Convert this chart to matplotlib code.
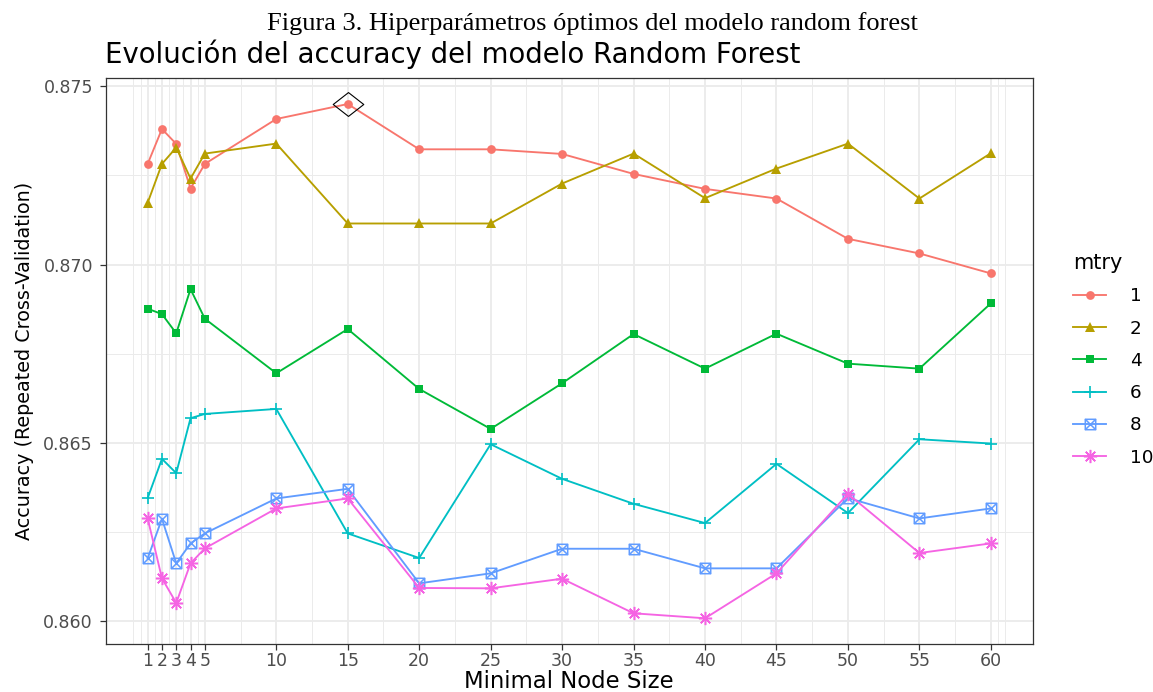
import numpy as np
import matplotlib
matplotlib.use("Agg")
import matplotlib.pyplot as plt
from matplotlib.path import Path

# Datos
node_size = [1, 2, 3, 4, 5, 10, 15, 20, 25, 30, 35, 40, 45, 50, 55, 60]
mtry_levels = ["1", "2", "4", "6", "8", "10"]

acc_mtry1 = [0.87282, 0.87380, 0.87338, 0.87213, 0.87282, 0.87408, 0.87450, 0.87323,
             0.87323, 0.87310, 0.87254, 0.87212, 0.87185, 0.87072, 0.87031, 0.86975]
acc_mtry2 = [0.87173, 0.87282, 0.87328, 0.87241, 0.87311, 0.87339, 0.87115, 0.87115,
             0.87115, 0.87227, 0.87311, 0.87186, 0.87269, 0.87339, 0.87185, 0.87312]
acc_mtry4 = [0.86876, 0.86861, 0.86807, 0.86931, 0.86848, 0.86695, 0.86819, 0.86651,
             0.86539, 0.86667, 0.86805, 0.86708, 0.86806, 0.86722, 0.86708, 0.86891]
acc_mtry6 = [0.86345, 0.86455, 0.86415, 0.86569, 0.86581, 0.86595, 0.86246, 0.86177,
             0.86496, 0.86399, 0.86329, 0.86275, 0.86441, 0.86303, 0.86510, 0.86498]
acc_mtry8 = [0.86176, 0.86287, 0.86162, 0.86218, 0.86246, 0.86344, 0.86371, 0.86106,
             0.86134, 0.86203, 0.86203, 0.86148, 0.86148, 0.86345, 0.86288, 0.86316]
acc_mtry10 = [0.86288, 0.86120, 0.86051, 0.86162, 0.86204, 0.86316, 0.86344, 0.86093,
              0.86092, 0.86119, 0.86022, 0.86008, 0.86134, 0.86357, 0.86191, 0.86218]

series = [acc_mtry1, acc_mtry2, acc_mtry4, acc_mtry6, acc_mtry8, acc_mtry10]
colors = ["#F8766D", "#B79F00", "#00BA38", "#00BFC4", "#619CFF", "#F564E3"]

y_ticks = [0.860, 0.865, 0.870, 0.875]
x_ticks = node_size

# marcadores tipo ggplot: 16, 17, 15, 3, 7, 8
sq_x = Path([(-1, -1), (1, -1), (1, 1), (-1, 1), (-1, -1),
             (-1, -1), (1, 1), (-1, 1), (1, -1)],
            [Path.MOVETO, Path.LINETO, Path.LINETO, Path.LINETO, Path.CLOSEPOLY,
             Path.MOVETO, Path.LINETO, Path.MOVETO, Path.LINETO])
diamond = Path([(-1, 0), (0, 0.78), (1, 0), (0, -0.78), (-1, 0)],
               [Path.MOVETO, Path.LINETO, Path.LINETO, Path.LINETO, Path.CLOSEPOLY])

marker_style = [
    dict(marker="o", ms=6.3, mec="none"),
    dict(marker="^", ms=7.8, mec="none"),
    dict(marker="s", ms=6.3, mec="none"),
    dict(marker="+", ms=9.0, mew=1.2),
    dict(marker=sq_x, ms=7.5, mfc="none", mew=1.1),
    dict(marker=(8, 2, 0), ms=9.5, mew=1.1),
]

plt.rcParams["font.family"] = ["DejaVu Sans"]

fig = plt.figure(figsize=(11.53, 6.92), dpi=100)
ax = fig.add_axes([105.5 / 1153, 1 - 644 / 692, (1033 - 105.5) / 1153, (644 - 78.3) / 692])

# cuadrícula
ax.set_axisbelow(True)
minor_x = [0, 0.5, 1.5, 2.5, 3.5, 4.5] + [7.5 + 5 * k for k in range(11)] + [60.5, 61]
for xm in minor_x:
    ax.axvline(xm, color="#EBEBEB", lw=0.7, zorder=0)
for xm in x_ticks:
    ax.axvline(xm, color="#EBEBEB", lw=1.3, zorder=0)
for ym in [0.8625, 0.8675, 0.8725]:
    ax.axhline(ym, color="#EBEBEB", lw=0.7, zorder=0)
for ym in y_ticks:
    ax.axhline(ym, color="#EBEBEB", lw=1.3, zorder=0)

for vals, col, lab, ms in zip(series, colors, mtry_levels, marker_style):
    kw = dict(ms)
    if kw.get("mfc") != "none":
        kw.setdefault("mfc", col)
    kw.setdefault("mec", col)
    if kw["mec"] == "none":
        kw["mec"] = col
        kw["mew"] = 0
    ax.plot(node_size, vals, color=col, lw=1.35, label=lab, zorder=3, **kw)

# mejor combinación
all_vals = np.array(series)
i_best, j_best = np.unravel_index(np.argmax(all_vals), all_vals.shape)
ax.plot(node_size[j_best], all_vals[i_best, j_best], marker=diamond, ms=22,
        mfc="none", mec="black", mew=0.8, ls="none", zorder=4)

lo, hi = all_vals.min(), all_vals.max()
pad = 0.05 * (hi - lo)
ax.set_ylim(lo - pad, hi + pad)
ax.set_xlim(1 - 0.05 * 59, 60 + 0.05 * 59)

ax.set_xticks(x_ticks)
ax.set_xticklabels([str(v) for v in x_ticks])
ax.set_yticks(y_ticks)
ax.set_yticklabels(["%.3f" % v for v in y_ticks])
ax.tick_params(axis="both", direction="out", length=4, width=0.9, color="#333333",
               labelcolor="#4D4D4D", labelsize=12.5)
ax.tick_params(axis="x", pad=2)
ax.tick_params(axis="y", pad=5)

for sp in ax.spines.values():
    sp.set_color("#333333")
    sp.set_linewidth(0.9)

ax.set_xlabel("Minimal Node Size", fontsize=16.4, color="black")
ax.xaxis.set_label_coords(0.5, -(688 - 644) / 565.7)
ax.xaxis.label.set_verticalalignment("baseline")

ax.set_ylabel("Accuracy (Repeated Cross-Validation)", fontsize=13.8, color="black")
ax.yaxis.set_label_coords((34 - 105.5) / 927.5, 0.5)

fig.text(105 / 1153, 1 - 63.3 / 692, "Evolución del accuracy del modelo Random Forest",
         ha="left", va="baseline", fontsize=19.8, color="black")
fig.text(592.5 / 1153, 1 - 30 / 692,
         "Figura 3. Hiperparámetros óptimos del modelo random forest",
         ha="center", va="baseline", fontsize=19, color="black",
         family=["Liberation Serif", "DejaVu Serif"])

leg = ax.legend(title="mtry", loc="upper left", bbox_to_anchor=(1073 / 1153, 1 - 253 / 692),
                bbox_transform=fig.transFigure, frameon=False, fontsize=13.2,
                title_fontsize=15, handlelength=1.8, handletextpad=1.3,
                labelspacing=0.78, borderpad=0, borderaxespad=0, alignment="left")

fig.savefig("out.png", dpi=100)
